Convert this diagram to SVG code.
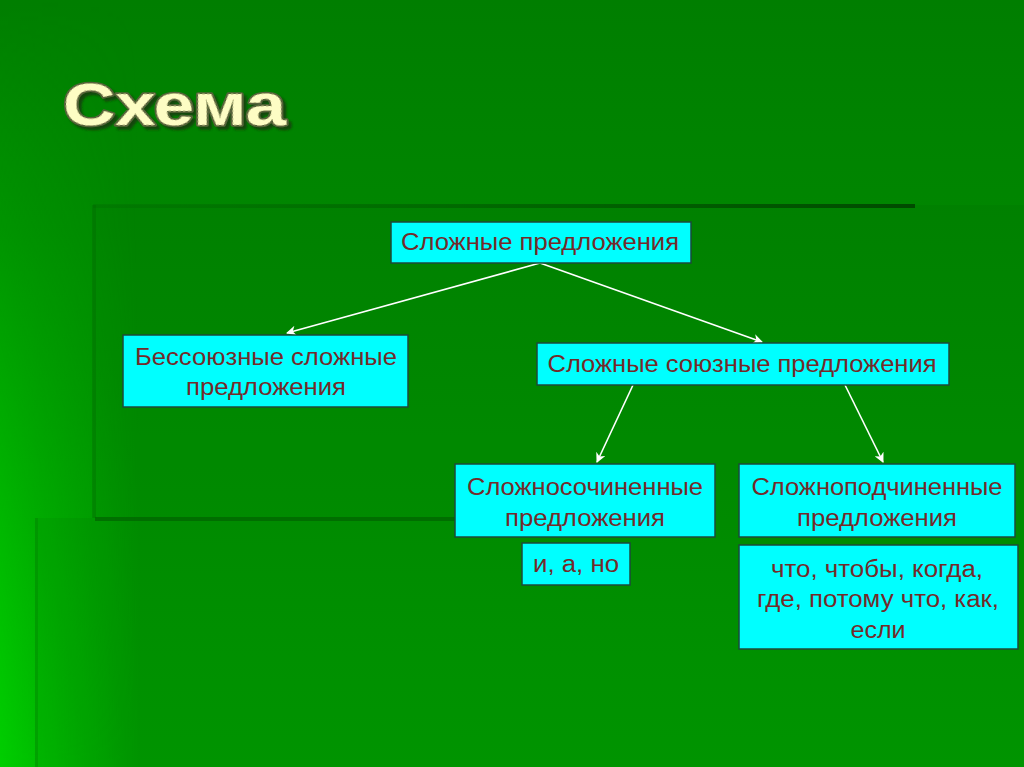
<svg xmlns="http://www.w3.org/2000/svg" width="1024" height="767" viewBox="0 0 1024 767">
<defs>
<linearGradient id="bg" x1="0" y1="0" x2="0" y2="1">
<stop offset="0" stop-color="#007e00"/>
<stop offset="1" stop-color="#009a00"/>
</linearGradient>
<linearGradient id="glow" x1="0" y1="0" x2="1" y2="0">
<stop offset="0" stop-color="#00d400" stop-opacity="0.9"/>
<stop offset="0.3" stop-color="#00d400" stop-opacity="0.6"/>
<stop offset="1" stop-color="#00d400" stop-opacity="0"/>
</linearGradient>
<linearGradient id="glowMask" x1="0" y1="0" x2="0" y2="1">
<stop offset="0" stop-color="#fff" stop-opacity="0"/>
<stop offset="0.3" stop-color="#fff" stop-opacity="0.2"/>
<stop offset="1" stop-color="#fff" stop-opacity="1"/>
</linearGradient>
<mask id="m1"><rect width="1024" height="767" fill="url(#glowMask)"/></mask>
<linearGradient id="topline" x1="0" y1="0" x2="1" y2="0">
<stop offset="0" stop-color="#006800" stop-opacity="0.3"/>
<stop offset="1" stop-color="#004a00" stop-opacity="1"/>
</linearGradient>
<filter id="shadow" x="-10%" y="-20%" width="130%" height="150%">
<feDropShadow dx="3" dy="3" stdDeviation="1.2" flood-color="#1a300c" flood-opacity="0.75"/>
</filter>
<marker id="ah" viewBox="0 0 10 10" refX="9" refY="5" markerWidth="10" markerHeight="10" markerUnits="userSpaceOnUse" orient="auto">
<path d="M0,0 L10,5 L0,10 L3,5 Z" fill="#ffffff"/>
</marker>
<style>
.box{fill:#00ffff;stroke:#1d4a3a;stroke-width:1.5}
.t{font-family:"Liberation Sans",Arial,sans-serif;font-size:23.5px;fill:#742a2a;text-anchor:middle}
.c{stroke:#ffffff;stroke-width:1.6;fill:none;marker-end:url(#ah)}
.title{font-family:"Liberation Sans",Arial,sans-serif;font-weight:bold;font-size:60px}
</style>
</defs>
<g id="background">
<rect width="1024" height="767" fill="url(#bg)"/>
<rect width="140" height="767" fill="url(#glow)" mask="url(#m1)"/>
<rect x="93" y="205" width="931" height="313" fill="#004000" opacity="0.07"/>
<rect x="35" y="518" width="989" height="249" fill="#004000" opacity="0.07"/>
<rect x="93" y="204" width="822" height="4" fill="url(#topline)"/>
<rect x="92" y="205" width="4" height="313" fill="#006400" opacity="0.3"/>
<rect x="95" y="517" width="370" height="4" fill="#006200" opacity="0.7"/>
<rect x="35" y="518" width="3" height="249" fill="#007800" opacity="0.3"/>
</g>
<g id="title" filter="url(#shadow)">
<text class="title" x="63" y="125" textLength="223" lengthAdjust="spacingAndGlyphs" fill="#fdfdc4" stroke="#56643a" stroke-width="3.5" stroke-linejoin="round" paint-order="stroke">Схема</text>
<text class="title" x="63" y="125" textLength="223" lengthAdjust="spacingAndGlyphs" fill="none" stroke="#b8b880" stroke-width="0.8" stroke-dasharray="2 2">Схема</text>
</g>
<g id="connectors">
<line class="c" x1="540" y1="263" x2="287" y2="333"/>
<line class="c" x1="540" y1="263" x2="762" y2="342"/>
<line class="c" x1="633" y1="385" x2="597" y2="462"/>
<line class="c" x1="845" y1="385" x2="883" y2="462"/>
</g>
<g id="n1">
<rect class="box" x="391" y="222" width="300" height="41"/>
<text class="t" x="540" y="250" textLength="278" lengthAdjust="spacingAndGlyphs">Сложные предложения</text>
</g>
<g id="n2">
<rect class="box" x="123" y="335" width="285" height="72"/>
<text class="t" x="266" y="365" textLength="262" lengthAdjust="spacingAndGlyphs">Бессоюзные сложные</text>
<text class="t" x="266" y="395" textLength="160" lengthAdjust="spacingAndGlyphs">предложения</text>
</g>
<g id="n3">
<rect class="box" x="537" y="343" width="412" height="42"/>
<text class="t" x="742" y="372" textLength="389" lengthAdjust="spacingAndGlyphs">Сложные союзные предложения</text>
</g>
<g id="n4">
<rect class="box" x="455" y="464" width="260" height="73"/>
<text class="t" x="585" y="495" textLength="236" lengthAdjust="spacingAndGlyphs">Сложносочиненные</text>
<text class="t" x="585" y="526" textLength="160" lengthAdjust="spacingAndGlyphs">предложения</text>
</g>
<g id="n5">
<rect class="box" x="522" y="543" width="108" height="42"/>
<text class="t" x="576" y="572" textLength="86" lengthAdjust="spacingAndGlyphs">и, а, но</text>
</g>
<g id="n6">
<rect class="box" x="739" y="464" width="276" height="73"/>
<text class="t" x="877" y="495" textLength="251" lengthAdjust="spacingAndGlyphs">Сложноподчиненные</text>
<text class="t" x="877" y="526" textLength="160" lengthAdjust="spacingAndGlyphs">предложения</text>
</g>
<g id="n7">
<rect class="box" x="739" y="545" width="279" height="104"/>
<text class="t" x="877" y="577" textLength="212" lengthAdjust="spacingAndGlyphs">что, чтобы, когда,</text>
<text class="t" x="878" y="607" textLength="242" lengthAdjust="spacingAndGlyphs">где, потому что, как,</text>
<text class="t" x="878" y="638" textLength="55" lengthAdjust="spacingAndGlyphs">если</text>
</g>
</svg>
